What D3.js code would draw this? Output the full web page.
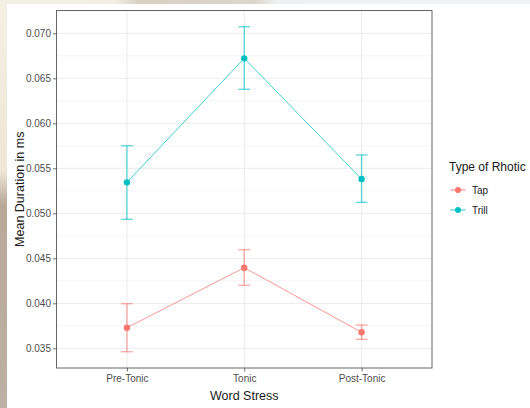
<!DOCTYPE html>
<html>
<head>
<meta charset="utf-8">
<script src="https://cdn.jsdelivr.net/npm/d3@7"></script>
<style>
  html, body { margin: 0; padding: 0; background: #fff; }
  svg { display: block; font-family: "Liberation Sans", Arial, sans-serif; }
</style>
</head>
<body>
<svg id="chart"></svg>
<script>
const width = 530;
const height = 408;

// data
const stress = ["Pre-Tonic", "Tonic", "Post-Tonic"];
const rhotic = ["Tap", "Trill"];
const tapMean = [0.03729, 0.04396, 0.03678];
const tapLow = [0.03462, 0.04200, 0.03600];
const tapHigh = [0.03996, 0.04596, 0.03759];
const trillMean = [0.05344, 0.06722, 0.05381];
const trillLow = [0.04933, 0.06378, 0.05122];
const trillHigh = [0.05751, 0.07073, 0.05648];
const yTicks = [0.035, 0.040, 0.045, 0.050, 0.055, 0.060, 0.065, 0.070];
const colors = ["#F8766D", "#00BFC4"];

const panel = {left: 56.5, top: 10.5, right: 432, bottom: 368};

let svg = d3.select("#chart")
  .attr("width", width)
  .attr("height", height);

// photo strip behind the screenshot (left and top edges)
let defs = svg.append("defs");
let gLeft = defs.append("linearGradient").attr("id", "leftStrip")
  .attr("x1", 0).attr("y1", 0).attr("x2", 0).attr("y2", 1);
gLeft.append("stop").attr("offset", "0%").attr("stop-color", "#f4f1e4");
gLeft.append("stop").attr("offset", "42%").attr("stop-color", "#eee6d6");
gLeft.append("stop").attr("offset", "50%").attr("stop-color", "#b9a999");
gLeft.append("stop").attr("offset", "100%").attr("stop-color", "#bdb0a4");
let gTop = defs.append("linearGradient").attr("id", "topStrip")
  .attr("x1", 0).attr("y1", 0).attr("x2", 1).attr("y2", 0);
gTop.append("stop").attr("offset", "0%").attr("stop-color", "#f3f0e4");
gTop.append("stop").attr("offset", "22%").attr("stop-color", "#f1ede2");
gTop.append("stop").attr("offset", "26%").attr("stop-color", "#d9d0c3");
gTop.append("stop").attr("offset", "48%").attr("stop-color", "#dcd5ca");
gTop.append("stop").attr("offset", "52%").attr("stop-color", "#eef0f2");
gTop.append("stop").attr("offset", "100%").attr("stop-color", "#eff1f4");
svg.append("rect").attr("x", 0).attr("y", 0).attr("width", width).attr("height", 4)
  .attr("fill", "url(#topStrip)");
svg.append("rect").attr("x", 0).attr("y", 0).attr("width", 7).attr("height", height)
  .attr("fill", "url(#leftStrip)");

// scales (ggplot style expansion)
let scX = d3.scaleLinear()
  .domain([1 - 0.6, stress.length + 0.6])
  .range([panel.left, panel.right]);
let catX = d => scX(stress.indexOf(d) + 1);

const yMin = d3.min(tapLow), yMax = d3.max(trillHigh);
const pad = (yMax - yMin) * 0.05;
let scY = d3.scaleLinear()
  .domain([yMin - pad, yMax + pad])
  .range([panel.bottom, panel.top]);

// grid
let grid = svg.append("g");
let minor = d3.range(0.0325, 0.0726, 0.005).filter(v => scY(v) > panel.top && scY(v) < panel.bottom);
grid.selectAll(".minor").data(minor).enter().append("line")
  .attr("x1", panel.left).attr("x2", panel.right)
  .attr("y1", d => scY(d)).attr("y2", d => scY(d))
  .attr("stroke", "#f1f1f1").attr("stroke-width", 0.7);
grid.selectAll(".majorY").data(yTicks).enter().append("line")
  .attr("x1", panel.left).attr("x2", panel.right)
  .attr("y1", d => scY(d)).attr("y2", d => scY(d))
  .attr("stroke", "#ebebeb").attr("stroke-width", 1);
grid.selectAll(".majorX").data(stress).enter().append("line")
  .attr("x1", d => catX(d)).attr("x2", d => catX(d))
  .attr("y1", panel.top).attr("y2", panel.bottom)
  .attr("stroke", "#ebebeb").attr("stroke-width", 1);

// series
const series = [
  {name: rhotic[0], mean: tapMean, low: tapLow, high: tapHigh, color: colors[0]},
  {name: rhotic[1], mean: trillMean, low: trillLow, high: trillHigh, color: colors[1]}
];
const capHalf = (scX(1.05) - scX(1));

series.forEach(s => {
  let g = svg.append("g");
  let pts = stress.map((c, i) => ({c, m: s.mean[i], lo: s.low[i], hi: s.high[i]}));
  // line
  g.append("path")
    .datum(pts)
    .attr("d", d3.line().x(d => catX(d.c)).y(d => scY(d.m)))
    .attr("fill", "none")
    .attr("stroke", s.color)
    .attr("stroke-opacity", 0.75)
    .attr("stroke-width", 1);
  // error bars
  let eb = g.selectAll(".eb").data(pts).enter().append("g")
    .attr("stroke", s.color).attr("stroke-opacity", 0.6).attr("stroke-width", 1.4);
  eb.append("line")
    .attr("x1", d => catX(d.c)).attr("x2", d => catX(d.c))
    .attr("y1", d => scY(d.lo)).attr("y2", d => scY(d.hi));
  eb.append("line")
    .attr("x1", d => catX(d.c) - capHalf).attr("x2", d => catX(d.c) + capHalf)
    .attr("y1", d => scY(d.lo)).attr("y2", d => scY(d.lo));
  eb.append("line")
    .attr("x1", d => catX(d.c) - capHalf).attr("x2", d => catX(d.c) + capHalf)
    .attr("y1", d => scY(d.hi)).attr("y2", d => scY(d.hi));
  // points
  g.selectAll(".pt").data(pts).enter().append("circle")
    .attr("cx", d => catX(d.c))
    .attr("cy", d => scY(d.m))
    .attr("r", 3.2)
    .attr("fill", s.color);
});

// panel border
svg.append("rect")
  .attr("x", panel.left).attr("y", panel.top)
  .attr("width", panel.right - panel.left).attr("height", panel.bottom - panel.top)
  .attr("fill", "none").attr("stroke", "#666").attr("stroke-width", 1);

// axes
let axisY = svg.append("g")
  .attr("transform", `translate(${panel.left},0)`)
  .call(d3.axisLeft(scY).tickValues(yTicks).tickFormat(d3.format(".3f")).tickSize(3.5).tickPadding(2));
let axisX = svg.append("g")
  .attr("transform", `translate(0,${panel.bottom})`)
  .call(d3.axisBottom(scX).tickValues([1, 2, 3]).tickFormat(i => stress[i - 1]).tickSize(3.5).tickPadding(3));
[axisY, axisX].forEach(a => {
  a.select(".domain").remove();
  a.selectAll(".tick line").attr("stroke", "#333").attr("stroke-opacity", 0.7);
  a.selectAll("text")
    .attr("fill", "#4d4d4d")
    .style("font-size", "10px")
    .style("font-family", "Liberation Sans, Arial, sans-serif");
});

// axis titles
svg.append("text")
  .attr("x", (panel.left + panel.right) / 2)
  .attr("y", 400)
  .attr("text-anchor", "middle")
  .attr("fill", "#1a1a1a")
  .style("font-size", "12.5px")
  .text("Word Stress");
svg.append("text")
  .attr("transform", `translate(24,${(panel.top + panel.bottom) / 2}) rotate(-90)`)
  .attr("text-anchor", "middle")
  .attr("fill", "#1a1a1a")
  .style("font-size", "12.5px")
  .text("Mean Duration in ms");

// legend
let legend = svg.append("g");
legend.append("text")
  .attr("x", 449).attr("y", 171)
  .attr("fill", "#1a1a1a")
  .style("font-size", "12px")
  .text("Type of Rhotic");
series.forEach((s, i) => {
  let y = 190 + i * 20;
  legend.append("line")
    .attr("x1", 450.5).attr("x2", 465.5).attr("y1", y).attr("y2", y)
    .attr("stroke", s.color).attr("stroke-opacity", 0.75).attr("stroke-width", 1.2);
  legend.append("circle")
    .attr("cx", 458).attr("cy", y).attr("r", 3)
    .attr("fill", s.color);
  legend.append("text")
    .attr("x", 472).attr("y", y + 3.5)
    .attr("fill", "#1a1a1a")
    .style("font-size", "10px")
    .text(s.name);
});
</script>
</body>
</html>
